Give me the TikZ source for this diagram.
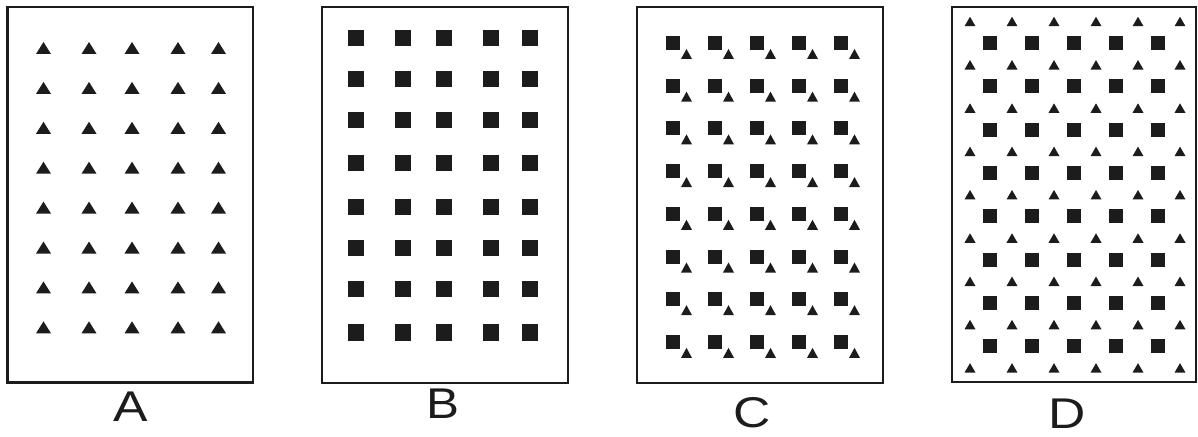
\documentclass[tikz,border=0pt]{standalone}
\usepackage{fontspec}
\setmainfont{Liberation Sans}
\usetikzlibrary{positioning}
\definecolor{Ink}{HTML}{1C1C1C}
\tikzset{
  panel/.style={draw=Ink, line width=2.5pt},
  blot/.style={fill=Ink},
  caption/.style={font=\fontsize{43}{43}\selectfont, text=Ink, inner sep=0pt}
}
% triangle: centre x, centre y, width, height
\newcommand{\drawtri}[4]{\fill[blot] ({#1-#3/2},{#2+#4/2}) -- ++(#3,0) -- ++({-#3/2},{-#4}) -- cycle;}
% square: centre x, centre y, side
\newcommand{\drawsq}[3]{\fill[blot] ({#1-#3/2},{#2-#3/2}) rectangle ++(#3,#3);}

\begin{document}
\begin{tikzpicture}[x=1pt,y=-1pt]
  \useasboundingbox (0,0) rectangle (1198,436);
  % A: triangles only
  \draw[panel] (7.5,7) rectangle (253,382.5);
  \foreach \px in {43.5,89,132,178,218.5}{
    \foreach \i in {0,...,7}{
      \pgfmathsetmacro\py{48+39.9*\i}
      \drawtri{\px}{\py}{15}{12}
    }
  }
  \node[caption] (labA) at (131,407) {\scalebox{1.2}[1]{A}};
  % B: squares only
  \draw[panel] (322,7) rectangle (568,383);
  \foreach \px in {356,403,444,491,530}{
    \foreach \py in {38,79,120,163,207,248,289,332.5}{
      \drawsq{\px}{\py}{16.5}
    }
  }
  \node[caption] (labB) at (443,403.5) {\scalebox{1.15}[1]{B}};
  % C: square with triangle below right
  \draw[panel] (637,7) rectangle (883,383);
  \foreach \j in {0,...,4}{
    \foreach \i in {0,...,7}{
      \pgfmathsetmacro\px{673+42*\j}
      \pgfmathsetmacro\py{43+42.7*\i}
      \drawsq{\px}{\py}{14}
      \drawtri{\px+13.5}{\py+11}{11}{10}
    }
  }
  \node[caption] (labC) at (752,412.5) {\scalebox{1.2}[1]{C}};
  % D: alternating rows
  \draw[panel] (952,7) rectangle (1196,382);
  \foreach \j in {0,...,5}{
    \foreach \i in {0,...,8}{
      \pgfmathsetmacro\px{970+42*\j}
      \pgfmathsetmacro\py{21.5+43.3*\i}
      \drawtri{\px}{\py}{11}{9.5}
    }
  }
  \foreach \j in {0,...,4}{
    \foreach \i in {0,...,7}{
      \pgfmathsetmacro\px{990+42*\j}
      \pgfmathsetmacro\py{43+43.3*\i}
      \drawsq{\px}{\py}{14}
    }
  }
  \node[caption] (labD) at (1067,414) {\scalebox{1.2}[1]{D}};
\end{tikzpicture}
\end{document}
